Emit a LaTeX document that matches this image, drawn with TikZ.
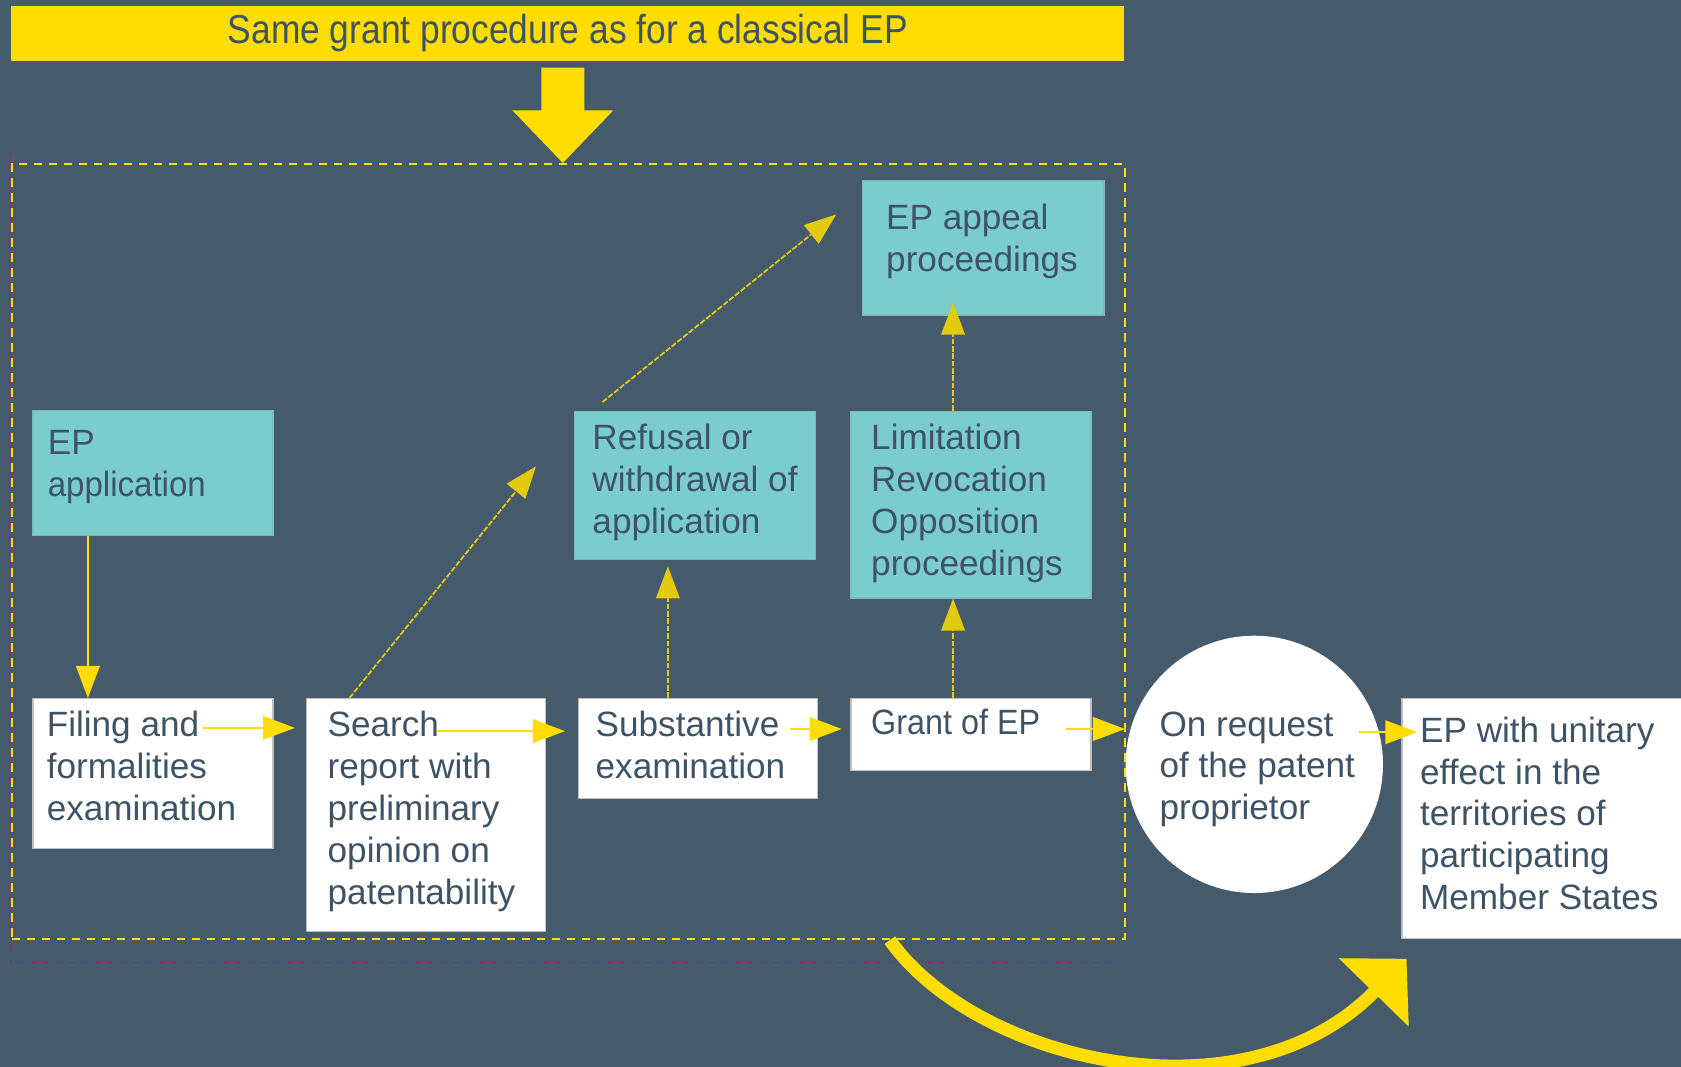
\documentclass[tikz,border=0pt]{standalone}
\usepackage{fontspec}
\setmainfont{Liberation Sans}
\usetikzlibrary{arrows.meta,calc}
\newlength\px
\setlength\px{0.10721mm}
\definecolor{bgcol}{HTML}{455B6B}
\definecolor{yel}{HTML}{FFDD00}
\definecolor{boxteal}{HTML}{7ACDCB}
\definecolor{txtcol}{HTML}{3E5466}
\definecolor{guide}{HTML}{7A2E8A}
\tikzset{
  tealbox/.style={anchor=north west, inner sep=0, fill=boxteal, draw=boxteal!80!gray, line width=0.4pt},
  whitebox/.style={anchor=north west, inner sep=0, fill=white, draw=gray!50, line width=0.4pt},
  txt/.style={anchor=north west, inner sep=0, align=left, text=txtcol, font=\fontsize{10}{11.9}\selectfont},
  flow/.style={draw=yel, line width=0.6pt, -{Triangle[length=3.2mm,width=2.36mm]}},
  dotflow/.style={flow, line width=0.5pt, draw=yel!85!bgcol, dash pattern=on 1.6pt off 0.5pt},
  bigflow/.style={draw=yel, line width=1.29mm, -{Triangle[length=4.7mm,width=9.5mm]}}
}
\begin{document}
\begin{tikzpicture}[x=0.10721mm, y=-0.10721mm]
  \fill[bgcol] (0,0) rectangle (1568,995);
  \useasboundingbox (0,0) rectangle (1568,995);
  % banner and block arrow
  \node[anchor=north west, inner sep=0, fill=yel, minimum width=1038\px, minimum height=51\px,
        text=txtcol, font=\fontsize{11.5}{13}\selectfont] (title) at (10,5)
        {\scalebox{0.875}[1]{Same grant procedure as for a classical EP}};
  \fill[yel] (505,63) -- (545,63) -- (545,103) -- (572,103) -- (525,152) -- (478,103) -- (505,103) -- cycle;
  % frame of the classical procedure
  \draw[guide, line width=0.3pt, dash pattern=on 0.64mm off 0.64mm] (10,140) -- (10,898) -- (1040,898);
  \node[anchor=north west, inner sep=0, draw=yel, line width=0.21mm, dash pattern=on 0.86mm off 0.64mm,
        minimum width=1038\px, minimum height=723\px] (frame) at (10,152) {};
  % boxes
  \node[tealbox, minimum width=224\px, minimum height=117\px] (epapp) at (30,382) {};
  \node[whitebox, minimum width=224\px, minimum height=140\px] (filing) at (30,651) {};
  \node[whitebox, minimum width=223\px, minimum height=217\px] (search) at (285,651) {};
  \node[whitebox, minimum width=223\px, minimum height=93\px] (subst) at (539,651) {};
  \node[whitebox, minimum width=224\px, minimum height=67\px] (grant) at (793,651) {};
  \node[tealbox, minimum width=225\px, minimum height=138\px] (refusal) at (535,383) {};
  \node[tealbox, minimum width=224\px, minimum height=174\px] (limit) at (793,383) {};
  \node[tealbox, minimum width=225\px, minimum height=125\px] (appeal) at (804,168) {};
  \node[circle, fill=white, inner sep=0, minimum size=240\px] (request) at (1170,713) {};
  \node[whitebox, minimum width=280\px, minimum height=224\px] (unitary) at (1307,651) {};
  % texts
  \node[txt] (epapptxt) at ([shift={(14,19)}]epapp.north west) {EP\\\scalebox{0.94}[1]{application}};
  \node[txt] (filingtxt) at ([shift={(13,12)}]filing.north west) {Filing and\\formalities\\examination};
  \node[txt] (searchtxt) at ([shift={(20,12)}]search.north west) {Search\\report with\\preliminary\\opinion on\\patentability};
  \node[txt] (substtxt) at ([shift={(16,12)}]subst.north west) {Substantive\\examination};
  \node[txt] (granttxt) at ([shift={(19,10)}]grant.north west) {\scalebox{0.92}[1]{Grant of EP}};
  \node[txt] (refusaltxt) at ([shift={(17,12)}]refusal.north west) {Refusal or\\withdrawal of\\application};
  \node[txt] (limittxt) at ([shift={(19,12)}]limit.north west) {Limitation\\Revocation\\Opposition\\proceedings};
  \node[txt] (appealtxt) at ([shift={(22,22)}]appeal.north west) {EP appeal\\proceedings};
  \node[txt] (requesttxt) at ([shift={(-89,-50)}]request.center) {On request\\of the patent\\proprietor};
  \node[txt] (unitarytxt) at ([shift={(17,17)}]unitary.north west) {EP with unitary\\effect in the\\territories of\\participating\\Member States};
  % free ends of the diagonal arrows
  \coordinate (searchup) at (500,435);
  \coordinate (refusalup) at (780,200);
  % connectors
  \draw[flow] ($(epapp.south west)+(52,0)$) -- ($(filing.north west)+(52,0)$);
  \draw[flow] ($(filing.north east)+(-66,28)$) -- ($(search.north west)+(-10,28)$);
  \draw[flow] ($(search.north west)+(123,31)$) -- ($(subst.north west)+(-12,31)$);
  \draw[flow] ($(subst.north east)+(-26,29)$) -- ($(grant.north west)+(-8,29)$);
  \draw[flow] ($(grant.north east)+(-24,29)$) -- ($(grant.north east)+(31,29)$);
  \draw[flow] ($(request.center)+(98,-30)$) -- ($(unitary.north west)+(15,32)$);
  \draw[dotflow] ($(search.north west)+(41,0)$) -- (searchup);
  \draw[dotflow] ($(refusal.north west)+(27,-8)$) -- (refusalup);
  \draw[dotflow] ($(subst.north west)+(84,0)$) -- ($(refusal.south west)+(88,6)$);
  \draw[dotflow] ($(grant.north west)+(96,0)$) -- ($(limit.south west)+(96,0)$);
  \draw[dotflow] ($(limit.north west)+(96,0)$) -- ($(appeal.south west)+(85,-12)$);
  \draw[bigflow] ($(frame.south west)+(820,0)$) .. controls (910,990) and (1160,1050) .. ($(unitary.south west)+(5,18)$);
\end{tikzpicture}
\end{document}
